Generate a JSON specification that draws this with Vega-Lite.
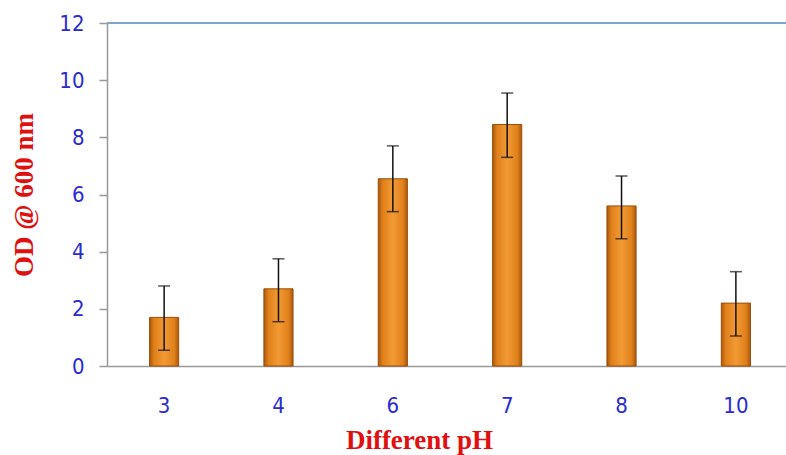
{
  "$schema": "https://vega.github.io/schema/vega-lite/v6.json",
  "autosize": "none",
  "padding": {"left": 107, "top": 23, "right": 0, "bottom": 89},
  "width": 686,
  "height": 343,
  "background": "white",
  "config": {"view": {"stroke": null}},
  "data": {"values": [
    {"pH": "3", "od": 1.7, "lo": 0.55, "hi": 2.8},
    {"pH": "4", "od": 2.7, "lo": 1.55, "hi": 3.75},
    {"pH": "6", "od": 6.55, "lo": 5.4, "hi": 7.7},
    {"pH": "7", "od": 8.45, "lo": 7.3, "hi": 9.55},
    {"pH": "8", "od": 5.6, "lo": 4.45, "hi": 6.65},
    {"pH": "10", "od": 2.2, "lo": 1.05, "hi": 3.3}
  ]},
  "encoding": {
    "x": {"field": "pH", "type": "ordinal", "sort": null,
      "scale": {"paddingInner": 0.745, "paddingOuter": 0.372},
      "axis": {"title": "Different pH", "labelAngle": 0, "labelFont": "DejaVu Sans Condensed, DejaVu Sans", "labelFontSize": 22, "labelColor": "#2b2bd0",
        "labelPadding": 29, "ticks": false, "domainColor": "#999999", "domainWidth": 1.5,
        "titleFont": "Liberation Serif", "titleFontSize": 27, "titleFontWeight": "bold", "titleColor": "#e01010",
        "titleX": 312, "titleY": 74, "titleBaseline": "middle", "titleAnchor": "middle"}}
  },
  "layer": [
    {
      "mark": {"type": "rule", "color": "#7ea6cf", "strokeWidth": 1.5},
      "encoding": {"x": null, "y": {"datum": 12}}
    },
    {
      "mark": {"type": "bar", "stroke": "#9a4f0a", "strokeWidth": 1,
        "color": {"gradient": "linear", "x1": 0, "x2": 1, "y1": 0, "y2": 0,
          "stops": [
            {"offset": 0, "color": "#a8560c"},
            {"offset": 0.15, "color": "#e0801a"},
            {"offset": 0.5, "color": "#f29a35"},
            {"offset": 0.85, "color": "#e0801a"},
            {"offset": 1, "color": "#a8560c"}
          ]}},
      "encoding": {
        "y": {"field": "od", "type": "quantitative",
          "scale": {"domain": [0, 12], "nice": false},
          "axis": {"values": [0, 2, 4, 6, 8, 10, 12], "grid": false, "title": "OD @ 600 nm",
            "labelFont": "DejaVu Sans Condensed, DejaVu Sans", "labelFontSize": 22, "labelColor": "#2b2bd0", "labelPadding": 15,
            "tickSize": 8, "tickColor": "#999999", "domainColor": "#999999", "domainWidth": 1.5, "tickWidth": 1.5,
            "titleFont": "Liberation Serif", "titleFontSize": 27, "titleFontWeight": "bold", "titleColor": "#e01010",
            "titleX": -83, "titleBaseline": "middle"}}
      }
    },
    {
      "mark": {"type": "rule", "color": "#111111", "strokeWidth": 1.5},
      "encoding": {"y": {"field": "lo", "type": "quantitative"}, "y2": {"field": "hi"}}
    },
    {
      "mark": {"type": "tick", "color": "#111111", "thickness": 1.5, "size": 12},
      "encoding": {"y": {"field": "lo", "type": "quantitative"}}
    },
    {
      "mark": {"type": "tick", "color": "#111111", "thickness": 1.5, "size": 12},
      "encoding": {"y": {"field": "hi", "type": "quantitative"}}
    }
  ]
}
